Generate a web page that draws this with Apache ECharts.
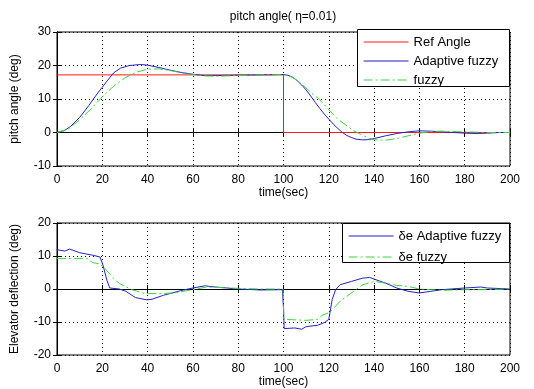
<!DOCTYPE html>
<html><head><meta charset="utf-8">
<script src="https://cdn.jsdelivr.net/npm/echarts@6/dist/echarts.min.js"></script>
<style>html,body{margin:0;padding:0;background:#fff}#c{width:534px;height:389px}</style>
</head><body><div id="c"></div>
<script>
// ---- data ----
var refT = [0, 100, 100, 200];
var refY = [17.2, 17.2, 0, 0];

var pitchAdT = [0,3,6,10,14,18,20,22,25,28,32,37,40,45,50,55,60,65,70,80,90,100,102,104,106,108,110,112,114,116,118,120,122,124,126,128,130,132,135,138,140,145,150,155,160,165,170,175,180,185,190,195,200];
var pitchAdY = [0,0.5,1.8,4.5,8,11.8,13.5,15.3,17.8,19.2,20,20.3,20.1,19.4,18.6,17.9,17.4,17.0,17.0,17.1,17.2,17.3,17.1,16.5,15.5,14.2,12.7,10.9,9.0,7.2,5.5,4,2.5,1.2,0,-0.9,-1.5,-2,-2.2,-2.1,-1.8,-1,-0.3,0.2,0.5,0.4,0.2,0,-0.2,-0.3,-0.2,0,0];

var pitchFzT = [0,5,10,15,20,25,30,35,40,45,50,55,60,65,70,80,90,100,104,108,112,116,120,124,128,131,134,137,140,145,150,155,160,165,170,180,190,200];
var pitchFzY = [0,1,3.8,7,10.7,13.8,16.3,18,18.9,19,18.5,17.8,17.3,16.9,16.8,17,17.2,17.3,16.5,14.5,12,9.8,6.8,4,2,0.5,-0.5,-1.5,-2.2,-2.3,-1.8,-1,-0.2,0.3,0.4,0.2,0,0];

var elevAdT = [0,3.4,5.6,10,16,19,20.4,22,23.3,27.5,30.4,34.6,39.7,42,47,54.6,60,65.6,67,70,75,80,90,99.5,100,100.3,105,108,110,115,118,120,121.5,123,125,130,135,138,140,145,150,155,160,165,170,180,187,190,200];
var elevAdY = [11.9,11.5,12.1,11,10.2,9.7,7,2.7,0.3,0,-0.7,-2.6,-3.3,-3.1,-1.9,-0.5,0.3,1,0.8,0.6,0.3,0,-0.3,-0.2,-6,-12,-11.8,-12.2,-11.4,-11,-10.2,-9.2,-3.2,-0.2,1.3,2.3,3.3,3.5,3,1.8,0.3,-0.7,-1.2,-0.7,-0.2,0.3,0.6,0.3,0];

var elevFzT = [0,13.5,15.7,19,22,25,27.5,33,39,45,51.6,60,66,80,90,99.8,100.2,110,115,117,120,122,125,130,135,140,145,150,155,160,165,170,180,190,200];
var elevFzY = [9.2,9.2,8,7.6,5.6,3.2,1.7,-0.2,-1.4,-1.4,-1.2,-0.2,0.6,0.2,0,0,-9.2,-9.5,-9.2,-8,-7.2,-6,-3.7,-1.2,1.3,2.3,1.8,1.1,0.8,0,-0.2,-0.4,-0.2,-0.2,0];

var xTicks = [0,20,40,60,80,100,120,140,160,180,200];
var pitchTicks = [-10,0,10,20,30];
var elevTicks = [-20,-10,0,10,20];

function pairs(t, y){ return t.map(function(v,i){ return [v, y[i]]; }); }

var FONT = 'Liberation Sans, Arial, sans-serif';
var BLUE = '#2323c8', GREEN = '#3ad83a', RED = '#ff1a1a';
var DASHDOT = [9,3,2,3];

function xAx(gi, showLabel){
  return {
    type:'value', gridIndex:gi, min:xTicks[0], max:xTicks[xTicks.length-1], interval:xTicks[1]-xTicks[0],
    name: showLabel ? 'time(sec)' : '', nameLocation:'middle', nameGap:21,
    nameTextStyle:{color:'#000', fontSize:12, fontFamily:FONT},
    axisLine:{show:true, lineStyle:{color:'#000', width:1}},
    axisTick:{show:true, inside:true, length:4, lineStyle:{color:'#000'}},
    axisLabel:{show:showLabel, color:'#000', fontSize:12, fontFamily:FONT, margin:8},
    splitLine:{show:showLabel, lineStyle:{color:'#000', type:[1,3], width:1}},
    position: showLabel ? 'bottom' : 'top'
  };
}
function yAx(gi, ticks, name, showLabel){
  return {
    type:'value', gridIndex:gi, min:ticks[0], max:ticks[ticks.length-1], interval:ticks[1]-ticks[0],
    name: showLabel ? name : '', nameLocation:'middle', nameGap:36,
    nameTextStyle:{color:'#000', fontSize:12, fontFamily:FONT},
    axisLine:{show:true, lineStyle:{color:'#000', width:1}},
    axisTick:{show:true, inside:true, length:4, lineStyle:{color:'#000'}},
    axisLabel:{show:showLabel, color:'#000', fontSize:12, fontFamily:FONT, margin:6},
    splitLine:{show:showLabel, lineStyle:{color:'#000', type:[1,3], width:1}},
    position: showLabel ? 'left' : 'right'
  };
}
function line(name, data, color, xi, yi, dash){
  return {
    type:'line', name:name, data:data, xAxisIndex:xi, yAxisIndex:yi,
    symbol:'none', smooth:false, animation:false, z:3,
    lineStyle:{color:color, width:1, type: dash || 'solid'},
    itemStyle:{color:color}
  };
}
function legItem(name, color, dash){
  return {name:name, itemStyle:{opacity:0, borderWidth:0},
          lineStyle:{color:color, width:1.2, type: dash || 'solid', opacity:1}};
}

var legendCommon = {orient:'vertical', itemWidth:45, itemHeight:12, padding:0, z:60,
  textStyle:{color:'#000', fontSize:13, fontFamily:FONT}};

var chart = echarts.init(document.getElementById('c'), null, {renderer:'canvas'});
chart.setOption({
  animation:false,
  backgroundColor:'#fff',
  grid:[
    {left:57, right:24, top:32, height:134, show:true, borderColor:'#000', borderWidth:1, backgroundColor:'#fff'},
    {left:57, right:24, top:223, height:134, show:true, borderColor:'#000', borderWidth:1, backgroundColor:'#fff'}
  ],
  xAxis:[xAx(0,true), xAx(1,true), xAx(0,false), xAx(1,false)],
  yAxis:[yAx(0,pitchTicks,'pitch angle (deg)',true), yAx(1,elevTicks,'Elevator deflection (deg)',true),
         yAx(0,pitchTicks,'',false), yAx(1,elevTicks,'',false)],
  graphic:[
    {type:'text', x:283, y:17, style:{text:'pitch angle( \u03b7=0.01)', font:'12px '+FONT, fill:'#000', align:'center', verticalAlign:'middle'}},
    {type:'rect', shape:{x:357.5, y:29.5, width:152, height:57}, style:{fill:'#fff', stroke:'#000', lineWidth:1}, z:50},
    {type:'rect', shape:{x:342.5, y:223.5, width:167, height:39}, style:{fill:'#fff', stroke:'#000', lineWidth:1}, z:50}
  ],
  legend:[
    Object.assign({}, legendCommon, {left:363, top:35.5, itemGap:6,
      data:[legItem('Ref Angle', RED), legItem('Adaptive fuzzy', BLUE), legItem('fuzzy', GREEN, DASHDOT)]}),
    Object.assign({}, legendCommon, {left:348, top:229.5, itemGap:8,
      data:[legItem('\u03b4e Adaptive fuzzy', BLUE), legItem('\u03b4e fuzzy', GREEN, DASHDOT)]})
  ],
  series:[
    line('Ref Angle', pairs(refT, refY), RED, 0, 0),
    line('Adaptive fuzzy', pairs(pitchAdT, pitchAdY), BLUE, 0, 0),
    line('fuzzy', pairs(pitchFzT, pitchFzY), GREEN, 0, 0, DASHDOT),
    line('\u03b4e Adaptive fuzzy', pairs(elevAdT, elevAdY), BLUE, 1, 1),
    line('\u03b4e fuzzy', pairs(elevFzT, elevFzY), GREEN, 1, 1, DASHDOT)
  ]
});
</script></body></html>
